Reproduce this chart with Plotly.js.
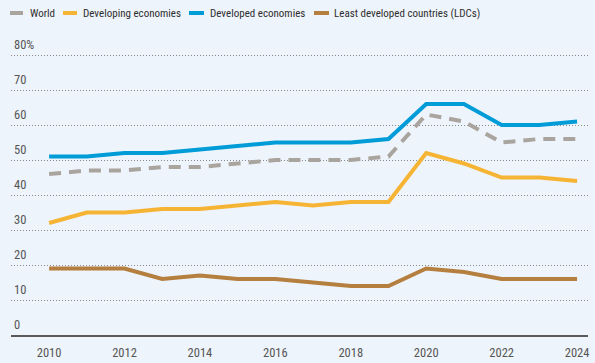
<!DOCTYPE html>
<html><head><meta charset="utf-8">
<script src="https://cdn.plot.ly/plotly-3.0.1.min.js"></script>
<style>html,body{margin:0;padding:0;background:#eef4fb;}#chart{width:595px;height:363px;}</style>
</head><body><div id="chart"></div>
<script>
const years = [2010,2011,2012,2013,2014,2015,2016,2017,2018,2019,2020,2021,2022,2023,2024];
const world      = [46,47,47,48,48,49,50,50,50,51,63,61,55,56,56];
const developing = [32,35,35,36,36,37,38,37,38,38,52,49,45,45,44];
const developed  = [51,51,52,52,53,54,55,55,55,56,66,66,60,60,61];
const ldcs       = [19,19,19,16,17,16,16,15,14,14,19,18,16,16,16];
const seriesNames = ["World","Developing economies","Developed economies","Least developed countries (LDCs)"];
const colors = ["#aaa49f","#f6b434","#009cd8","#b57f3f"];
const yTickVals = [0,10,20,30,40,50,60,70,80];
const yTickText = ["0","10","20","30","40","50","60","70","80%"];
const xTickVals = [2010,2012,2014,2016,2018,2020,2022,2024];

const FONT = "'Liberation Sans Narrow', 'Roboto Condensed', Roboto, Arial, sans-serif";
const data = [world, developing, developed, ldcs];
const order = [3,1,2,0];
const traces = order.map(i => ({
  x: years, y: data[i], type: 'scatter', mode: 'lines', name: seriesNames[i],
  line: {color: colors[i], width: 4, dash: i===0 ? '12px,8px' : 'solid'},
  showlegend: false, hoverinfo: 'skip'
}));

// manual legend
const W = 577, L = 11, T = 36, H = 335 - T;
const legY = (335 - 13) / H;
const legX = [[10,23,28],[63,77,81],[189,204,208],[314,329,332]];
const shapes = [], annotations = [];
legX.forEach((p,i) => {
  shapes.push({type:'line', xref:'paper', yref:'paper',
    x0:(p[0]-L)/W, x1:(p[1]-L)/W, y0:legY, y1:legY,
    line:{color:colors[i], width:4}});
  annotations.push({xref:'paper', yref:'paper', x:(p[2]-L)/W, y:legY,
    xanchor:'left', yanchor:'middle', showarrow:false, text:seriesNames[i],
    font:{family:FONT, size:11, color:'#2e2e2e'}});
});

const layout = {
  width:595, height:363,
  paper_bgcolor:'#eef4fb', plot_bgcolor:'#eef4fb',
  margin:{l:11, r:7, t:T, b:28},
  showlegend:false,
  font:{family:FONT, size:12.5, color:'#555'},
  xaxis:{range:[2008.99, 2024.29], tickvals:xTickVals, ticktext:xTickVals.map(String),
    showgrid:false, zeroline:false, showline:true, linecolor:'#5a5a5a', linewidth:2,
    ticks:'', ticklabelstandoff:5, tickfont:{family:FONT,size:12.5,color:'#555'}},
  yaxis:{range:[0,H/3.5], tickvals:yTickVals, ticktext:yTickText, ticklabelposition:'inside',
    ticklabelshift:-10, showgrid:true, gridcolor:'#8a8a8a', griddash:'1px,2px', gridwidth:1,
    zeroline:false, showline:false, ticks:'',
    tickfont:{family:FONT,size:12.5,color:'#555'}},
  shapes, annotations
};
Plotly.newPlot('chart', traces, layout, {displayModeBar:false, staticPlot:true});
</script></body></html>
